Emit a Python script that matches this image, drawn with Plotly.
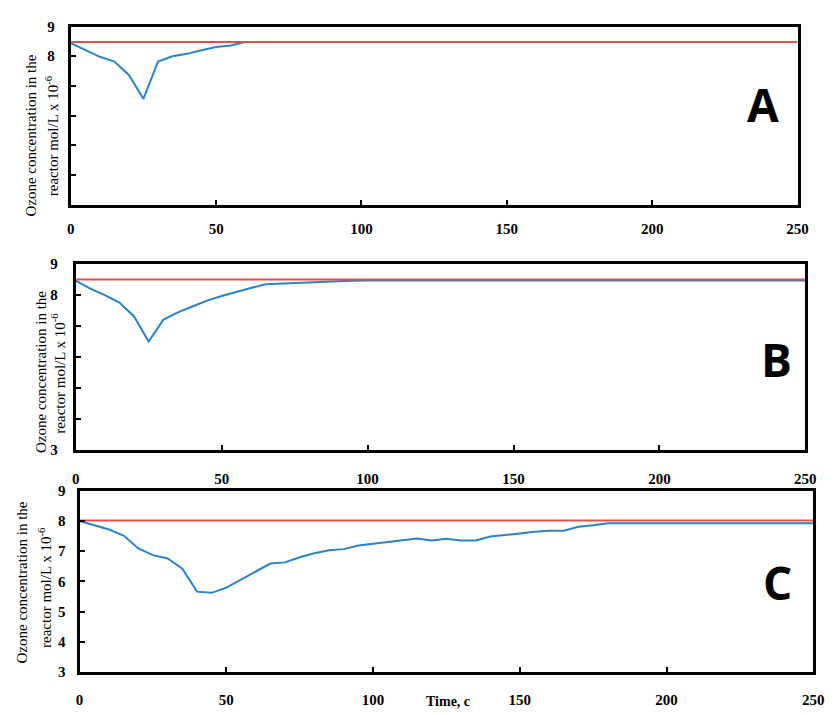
import plotly.graph_objects as go

W, H = 837, 715

# ---------------- data ----------------
time_a = [0, 10, 15, 20, 25, 30, 35, 40, 45, 50, 55, 60, 250]
ozone_a = [8.44, 7.98, 7.82, 7.37, 6.56, 7.82, 8.0, 8.08, 8.2, 8.31, 8.36, 8.48, 8.48]
ref_a = 8.48

time_b = [0, 5, 10, 15, 20, 25, 30, 35, 40, 45, 50, 55, 60, 65, 70, 75, 80, 85, 90, 95, 100, 250]
ozone_b = [8.47, 8.21, 8.0, 7.76, 7.31, 6.5, 7.2, 7.44, 7.63, 7.82, 7.97, 8.11, 8.23, 8.35,
           8.37, 8.39, 8.43, 8.44, 8.45, 8.46, 8.47, 8.47]
ref_b = 8.5

time_c = [0, 5, 10, 15, 20, 25, 30, 35, 40, 45, 50, 55, 60, 65, 70, 75, 80, 85, 90, 95, 100,
          105, 110, 115, 120, 125, 130, 135, 140, 145, 150, 155, 160, 165, 170, 175, 180, 250]
ozone_c = [8.0, 7.86, 7.72, 7.52, 7.09, 6.87, 6.76, 6.42, 5.66, 5.62, 5.79, 6.06, 6.33, 6.59,
           6.63, 6.8, 6.93, 7.03, 7.07, 7.19, 7.25, 7.31, 7.37, 7.42, 7.36, 7.41, 7.36, 7.36,
           7.49, 7.53, 7.59, 7.65, 7.68, 7.68, 7.81, 7.86, 7.93, 7.93]
ref_c = 8.02

x_ticks = [0, 50, 100, 150, 200, 250]
y_ticks = [3, 4, 5, 6, 7, 8, 9]
y_text_a = ["", "", "", "", "", "8", "9"]
y_text_b = ["3", "", "", "", "", "8", "9"]
y_text_c = ["3", "4", "5", "6", "7", "8", "9"]
panel_labels = ["A", "B", "C"]
y_title_1 = "Ozone concentration in the"
y_title_2 = "reactor mol/L x 10<sup>-6</sup>"
x_title = "Time, c"

BLUE = "#2b83c6"
RED = "#e0504c"
SERIF = "Liberation Serif, Times New Roman, serif"

# panel pixel boxes: (left, right, top, bottom)
boxes = [(68, 808, 19, 201), (73, 816, 262, 452), (77, 824, 494, 679)]
y_standoff = [10, 12, 8]
x_standoff = [8, 13, 12]

fig = go.Figure()
datasets = [(time_a, ozone_a, ref_a, y_text_a), (time_b, ozone_b, ref_b, y_text_b),
            (time_c, ozone_c, ref_c, y_text_c)]

for i, ((t, v, r, yt), (l, rr, tp, bt)) in enumerate(zip(datasets, boxes)):
    n = "" if i == 0 else str(i + 1)
    fig.add_trace(go.Scatter(x=t, y=v, mode="lines", line=dict(color=BLUE, width=2),
                             xaxis="x" + n, yaxis="y" + n, showlegend=False))
    fig.add_trace(go.Scatter(x=[0, 250], y=[r, r], mode="lines", line=dict(color=RED, width=2),
                             xaxis="x" + n, yaxis="y" + n, showlegend=False))
    axfont = dict(family=SERIF, size=15, color="black", weight="bold")
    fig.update_layout(**{
        "xaxis" + n: dict(domain=[l / W, rr / W], anchor="y" + n, range=[0, 250],
                          tickvals=x_ticks, ticks="inside", ticklen=5, tickwidth=1.5,
                          tickcolor="black", showline=True, linewidth=3, linecolor="black",
                          mirror=True, showgrid=False, zeroline=False, tickfont=axfont,
                          ticklabelstandoff=x_standoff[i], fixedrange=True),
        "yaxis" + n: dict(domain=[1 - bt / H, 1 - tp / H], anchor="x" + n, range=[3, 9],
                          tickvals=y_ticks, ticktext=yt, ticks="inside", ticklen=5,
                          tickwidth=1.5, tickcolor="black", showline=True, linewidth=3,
                          linecolor="black", mirror=True, showgrid=False, zeroline=False,
                          tickfont=axfont, ticklabelstandoff=y_standoff[i], fixedrange=True),
    })

# y titles (two lines each) and panel letters, positioned in pixels
title_pos = [(28, 49, 130, 131), (37, 55, 372, 374), (18, 41, 588, 593)]
letter_pos = [(773, 98), (787, 359), (788, 587)]
annotations = []
for (x1, x2, yc1, yc2), (lx, ly), lab in zip(title_pos, letter_pos, panel_labels):
    annotations.append(dict(text=y_title_1, x=x1 / W, y=1 - yc1 / H, xref="paper", yref="paper",
                            textangle=-90, showarrow=False, xanchor="center", yanchor="middle",
                            font=dict(family=SERIF, size=15, color="black")))
    annotations.append(dict(text=y_title_2, x=x2 / W, y=1 - yc2 / H, xref="paper", yref="paper",
                            textangle=-90, showarrow=False, xanchor="center", yanchor="middle",
                            font=dict(family=SERIF, size=15, color="black")))
    annotations.append(dict(text=lab, x=lx / W, y=1 - ly / H, xref="paper", yref="paper",
                            showarrow=False, xanchor="center", yanchor="middle",
                            font=dict(family="Open Sans", size=46, color="black", weight="bold")))
annotations.append(dict(text=x_title, x=452 / W, y=1 - 709 / H, xref="paper", yref="paper",
                        showarrow=False, xanchor="center", yanchor="middle",
                        font=dict(family=SERIF, size=14, color="black", weight="bold")))

fig.update_layout(width=W, height=H, margin=dict(l=0, r=0, t=0, b=0),
                  paper_bgcolor="white", plot_bgcolor="white", annotations=annotations)

fig.write_html("out.html")
